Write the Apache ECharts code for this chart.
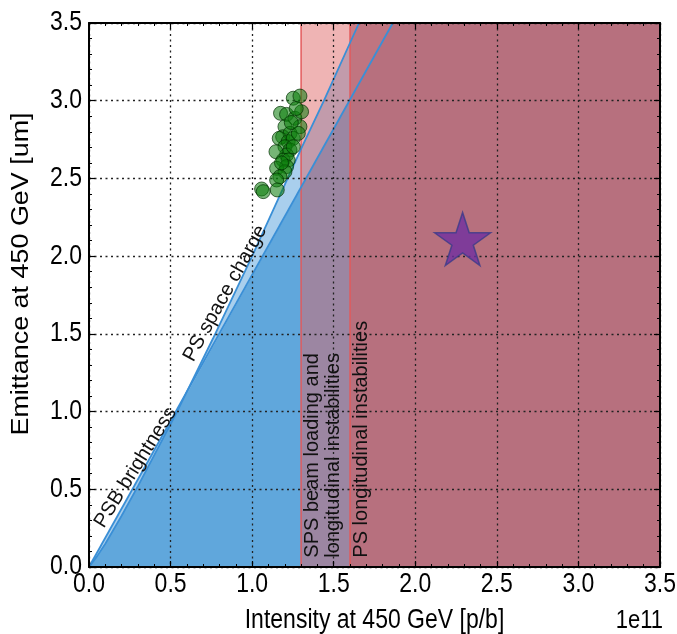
<!DOCTYPE html>
<html><head><meta charset="utf-8">
<script src="https://cdn.jsdelivr.net/npm/echarts@6/dist/echarts.min.js"></script>
<style>html,body{margin:0;padding:0;background:#fff}#c{width:677px;height:634px}</style>
</head><body><div id="c"></div>
<script>
// Axis ranges / ticks (x in units of 1e11 p/b, y in um)
const xRange = [0, 3.5];
const yRange = [0, 3.5];
const tickStep = 0.5;
const xTickValues = [0, 0.5, 1.0, 1.5, 2.0, 2.5, 3.0, 3.5];
const xTickLabels = ['0.0', '0.5', '1.0', '1.5', '2.0', '2.5', '3.0', '3.5'];
const yTickValues = [0, 0.5, 1.0, 1.5, 2.0, 2.5, 3.0, 3.5];
const yTickLabels = ['0.0', '0.5', '1.0', '1.5', '2.0', '2.5', '3.0', '3.5'];
const xTitle = 'Intensity at 450 GeV [p/b]';
const yTitle = 'Emittance at 450 GeV [um]';
const xScaleNote = '1e11';

// PSB brightness line (straight)
const psbX = [0, 1.862];
const psbY = [0, 3.5];
// PS space charge curve
const pscX = [0, 0.05, 0.1, 0.2, 0.3, 0.4, 0.54, 0.76, 1.0, 1.3, 1.44, 1.655];
const pscY = [0, 0.07, 0.15, 0.33, 0.52, 0.72, 1.0, 1.47, 2.0, 2.69, 3.0, 3.5];
// lower envelope of both limits (darker blue region boundary)
const lowX = [0, 0.05, 0.1, 0.2, 0.3, 0.4, 0.54, 1.862, 3.5];
const lowY = [0, 0.07, 0.15, 0.33, 0.52, 0.72, 1.0, 3.5, 3.5];

// Instability limits (vertical spans start)
const spsLimit = 1.3;
const psLimit = 1.6;

// Measured beams
const beamX = [1.252, 1.293, 1.174, 1.211, 1.262, 1.303, 1.293, 1.201, 1.187, 1.232, 1.166, 1.221, 1.252, 1.201, 1.232, 1.211, 1.146, 1.19, 1.221, 1.211, 1.15, 1.201, 1.17, 1.15, 1.154, 1.058, 1.068, 1.252, 1.283, 1.24, 1.27, 1.18];
const beamY = [3.016, 3.03, 2.919, 2.912, 2.887, 2.929, 2.833, 2.833, 2.768, 2.79, 2.758, 2.737, 2.758, 2.704, 2.683, 2.651, 2.672, 2.618, 2.618, 2.576, 2.565, 2.543, 2.511, 2.49, 2.426, 2.432, 2.415, 2.704, 2.79, 2.86, 2.95, 2.6];

// Target
const targetX = [2.29];
const targetY = [2.11];

const labelTexts = {
  psb: 'PSB brightness',
  psc: 'PS space charge',
  sps: 'SPS beam loading and\nlongitudinal instabilities',
  ps: 'PS longitudinal instabilities'
};
const labelPos = {
  psb: [0.285, 0.64],
  psc: [0.835, 1.76],
  sps: [1.437, 0.06],
  ps: [1.673, 0.06]
};

const zip = (xs, ys) => xs.map((x, i) => [x, ys[i]]);
const FONT = '"Liberation Sans", Arial, sans-serif';
const STRETCH = 1.17;
const LIGHT = '#a9cfed';
const MID = '#60a7dc';
const LINEBLUE = '#3a8fd6';

const chart = echarts.init(document.getElementById('c'), null, {renderer: 'canvas'});

function axisCommon(pos, showSplit) {
  return {
    type: 'value', min: xRange[0], max: xRange[1], interval: tickStep, position: pos, z: 7,
    axisLine: {show: true, onZero: false, lineStyle: {color: '#000', width: 2}},
    axisTick: {show: true, inside: true, length: 6, lineStyle: {color: '#000', width: 1.2}},
    minorTick: {show: true, splitNumber: 5, length: 3, lineStyle: {color: '#000', width: 1}},
    splitLine: {show: showSplit, lineStyle: {color: '#222', type: [2, 3.5], width: 1.3}},
    axisLabel: {show: false}
  };
}

const xBottom = axisCommon('bottom', true);
const xTop = axisCommon('top', false);
const yLeft = Object.assign(axisCommon('left', true), {min: yRange[0], max: yRange[1]});
const yRight = Object.assign(axisCommon('right', false), {min: yRange[0], max: yRange[1]});

function fill(data, color, z) {
  return {type: 'line', data, showSymbol: false, symbol: 'none', lineStyle: {width: 0},
    areaStyle: {color, opacity: 1}, z, silent: true, animation: false, clip: true};
}
function line(data, color, width, z) {
  return {type: 'line', data, showSymbol: false, symbol: 'none', lineStyle: {width, color},
    z, silent: true, animation: false, clip: true};
}

const starPath = 'path://M50,0 L61.2,34.5 L97.6,34.5 L68.2,55.9 L79.4,90.5 L50,69.1 L20.6,90.5 L31.8,55.9 L2.4,34.5 L38.8,34.5 Z';

chart.setOption({
  animation: false,
  backgroundColor: '#fff',
  grid: {left: 89, right: 17, top: 23, bottom: 67, containLabel: false},
  xAxis: [xBottom, xTop],
  yAxis: [yLeft, yRight],
  series: [
    fill(zip(psbX, psbY).concat([[xRange[1], yRange[1]]]), LIGHT, 1),
    fill(zip(pscX, pscY).concat([[xRange[1], yRange[1]]]), LIGHT, 1),
    fill(zip(lowX, lowY), MID, 2),
    fill([[spsLimit, yRange[1]], [xRange[1], yRange[1]]], 'rgba(222,98,98,0.48)', 3),
    fill([[psLimit, yRange[1]], [xRange[1], yRange[1]]], 'rgba(192,105,115,0.76)', 4),
    line([[spsLimit, yRange[0]], [spsLimit, yRange[1]]], '#e25a5c', 1.5, 5),
    line([[psLimit, yRange[0]], [psLimit, yRange[1]]], '#e25a5c', 1.5, 5),
    line(zip(psbX, psbY), LINEBLUE, 1.8, 6),
    line(zip(pscX, pscY), LINEBLUE, 1.8, 6),
    {type: 'scatter', data: zip(beamX, beamY), symbolSize: 14, z: 10, animation: false,
      itemStyle: {color: 'rgba(10,125,10,0.7)', borderColor: 'rgba(0,45,0,0.85)', borderWidth: 1}},
    {type: 'scatter', data: zip(targetX, targetY), symbol: starPath, symbolSize: [56, 53], z: 11, animation: false,
      itemStyle: {color: '#7030a0', borderColor: '#3b3b8a', borderWidth: 1.5}}
  ]
});

function stext(x, y, text, size, rotDeg, align, vAlign, color, sy) {
  return {type: 'group', x, y, scaleY: sy, z: 20, children: [{
    type: 'text', rotation: rotDeg * Math.PI / 180, z: 20,
    style: {text, font: size + 'px ' + FONT, fill: color || '#000', align, verticalAlign: vAlign, lineHeight: 21}
  }]};
}
const px = v => chart.convertToPixel({xAxisIndex: 0}, v);
const py = v => chart.convertToPixel({yAxisIndex: 0}, v);
const graphics = [];
xTickValues.forEach((v, i) => graphics.push(stext(px(v), 585, xTickLabels[i], 23, 0, 'center', 'middle', '#000', STRETCH)));
yTickValues.forEach((v, i) => graphics.push(stext(82, py(v), yTickLabels[i], 23, 0, 'right', 'middle', '#000', STRETCH)));
graphics.push(stext((px(xRange[0]) + px(xRange[1])) / 2, 621, xTitle, 23, 0, 'center', 'middle', '#000', STRETCH));
graphics.push(stext(22, 274, yTitle, 23, 90, 'center', 'middle', '#000', STRETCH));
graphics.push(stext(663, 621, xScaleNote, 22, 0, 'right', 'middle', '#000', STRETCH));
function lab(key, rot, align) {
  const p = chart.convertToPixel({xAxisIndex: 0, yAxisIndex: 0}, labelPos[key]);
  return stext(p[0], p[1], labelTexts[key], 20, rot, align, 'middle', '#111', 1);
}
graphics.push(lab('psb', 58, 'center'));
graphics.push(lab('psc', 61, 'center'));
graphics.push(lab('sps', 90, 'left'));
graphics.push(lab('ps', 90, 'left'));
chart.setOption({graphic: graphics});
</script>
</body></html>
